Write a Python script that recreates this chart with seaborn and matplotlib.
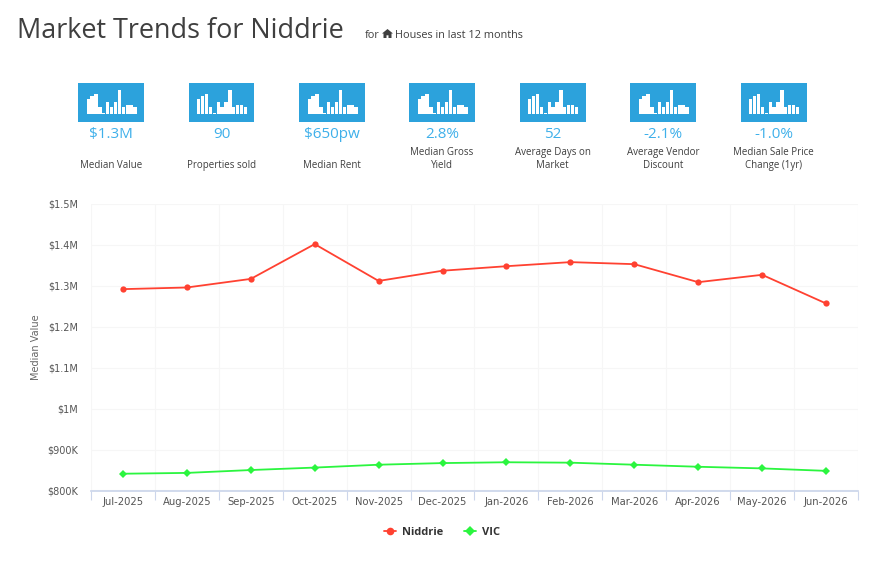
import pandas as pd
import numpy as np
import matplotlib
matplotlib.use('Agg')
import matplotlib.pyplot as plt
from matplotlib.ticker import FuncFormatter
import seaborn as sns

W, H = 891, 563

months = ['Jul-2025', 'Aug-2025', 'Sep-2025', 'Oct-2025', 'Nov-2025', 'Dec-2025',
          'Jan-2026', 'Feb-2026', 'Mar-2026', 'Apr-2026', 'May-2026', 'Jun-2026']
niddrie = [1292, 1296, 1317, 1402, 1312, 1337, 1348, 1358, 1353, 1309, 1327, 1257]
vic = [841, 843, 850, 856, 863, 867, 869, 868, 863, 858, 854, 848]

stat_values = ['$1.3M', '90', '$650pw', '2.8%', '52', '-2.1%', '-1.0%']
stat_labels = ['Median Value', 'Properties sold', 'Median Rent', 'Median Gross\nYield',
               'Average Days on\nMarket', 'Average Vendor\nDiscount',
               'Median Sale Price\nChange (1yr)']
icon_bars = [15, 18, 20, 7, 1, 12, 7, 12, 24, 7, 9, 9, 7]

TEXT = '#3f3f3f'
BLUE = '#3fb0ea'
ICON = '#2ca2dc'
RED = '#ff4131'
GREEN = '#2bf53f'


def px_axes(fig, x0, y0, x1, y1):
    # pixel box measured from the top left of the picture
    return fig.add_axes([x0 / W, 1 - y1 / H, (x1 - x0) / W, (y1 - y0) / H])


def draw_icon(fig, cx):
    ax = px_axes(fig, cx - 33, 83, cx + 33, 122)
    icon_df = pd.DataFrame({'pos': range(len(icon_bars)), 'height': icon_bars})
    sns.barplot(data=icon_df, x='pos', y='height', color='white', width=0.84,
                saturation=1, linewidth=0, ax=ax)
    ax.set_facecolor(ICON)
    ax.set_xlim(-2.6, 14.3)
    ax.set_ylim(-7.7, 31.3)
    ax.set_xticks([])
    ax.set_yticks([])
    ax.set_xlabel('')
    ax.set_ylabel('')
    for s in ax.spines.values():
        s.set_visible(False)


sns.set_theme(style='white')
plt.rcParams['font.family'] = ['Open Sans', 'DejaVu Sans']

fig = plt.figure(figsize=(W / 100, H / 100), dpi=100, facecolor='white')

fig.text(17 / W, 1 - 38 / H, 'Market Trends for Niddrie', fontsize=19.45, color=TEXT,
         va='baseline', ha='left')
fig.text(365 / W, 1 - 38 / H, 'for', fontsize=7.8, color=TEXT, va='baseline')
fig.text(395 / W, 1 - 38 / H, 'Houses in last 12 months', fontsize=7.8, color=TEXT, va='baseline')
# small house glyph between the two texts
house = px_axes(fig, 382, 29, 393, 38)
house.fill([0, 5.5, 11, 9.5, 9.5, 6.5, 6.5, 4.5, 4.5, 1.5, 1.5],
           [5, 10, 5, 5, 0, 0, 3, 3, 0, 0, 5], color=TEXT, lw=0)
house.set_xlim(0, 11)
house.set_ylim(0, 10)
house.axis('off')

centers = [111, 221.5, 332, 442, 552.5, 663, 773.5]
for cx, val, lab in zip(centers, stat_values, stat_labels):
    draw_icon(fig, cx)
    fig.text(cx / W, 1 - 138 / H, val, fontsize=11, color=BLUE, ha='center', va='baseline')
    if '\n' in lab:
        top, bottom = lab.split('\n')
        fig.text(cx / W, 1 - 155 / H, top, fontsize=7, color=TEXT, ha='center', va='baseline')
        fig.text(cx / W, 1 - 168 / H, bottom, fontsize=7, color=TEXT, ha='center', va='baseline')
    else:
        fig.text(cx / W, 1 - 168 / H, lab, fontsize=7, color=TEXT, ha='center', va='baseline')

df = pd.DataFrame({
    'month': months * 2,
    'value': niddrie + vic,
    'series': ['Niddrie'] * len(niddrie) + ['VIC'] * len(vic),
})

ax = px_axes(fig, 91, 204, 858, 490.5)
sns.lineplot(data=df, x='month', y='value', hue='series', style='series',
             palette={'Niddrie': RED, 'VIC': GREEN},
             markers={'Niddrie': 'o', 'VIC': 'D'}, dashes=False,
             linewidth=1.3, markersize=4.5, markeredgewidth=0, ax=ax)

ax.set_xlim(-0.5, len(months) - 0.5)
ax.set_ylim(800, 1500)
ax.set_yticks(range(800, 1501, 100))


def money(v, pos):
    if v < 1000:
        return f'${v:.0f}K'
    return f'${v / 1000:g}M'


ax.yaxis.set_major_formatter(FuncFormatter(money))
ax.set_xticks(np.arange(len(months)))
ax.set_xticklabels(months, fontfamily='DejaVu Sans')
ax.tick_params(axis='x', length=0, labelsize=7.2, labelcolor='#555555', pad=5)
ax.tick_params(axis='y', length=0, labelsize=7, labelcolor='#555555', pad=9)
for t in ax.get_yticklabels():
    t.set_fontfamily('DejaVu Sans')

# band edges carry the grid and the tick marks, as on a category axis
edges = np.arange(len(months) + 1) - 0.5
ax.set_xticks(edges, minor=True)
ax.tick_params(axis='x', which='minor', bottom=True, length=6.5, width=0.8,
               color='#ccd6eb', direction='out')
ax.grid(True, axis='x', which='minor', color='#f6f6f6', lw=0.8)
ax.grid(True, axis='y', which='major', color='#f6f6f6', lw=0.8)
ax.set_axisbelow(True)
for name, s in ax.spines.items():
    s.set_visible(name == 'bottom')
ax.spines['bottom'].set_color('#ccd6eb')

ax.set_xlabel('')
ax.set_ylabel('Median Value', fontsize=7, color='#666666', labelpad=5, fontfamily='DejaVu Sans')

sns.move_legend(ax, 'center', bbox_to_anchor=(351 / 767, (490.5 - 532.5) / 286.5), ncol=2,
                title=None, frameon=False, handlelength=1.1, columnspacing=1.8,
                handletextpad=0.55, prop={'size': 8, 'weight': 'bold'})
leg = ax.get_legend()
for t in leg.get_texts():
    t.set_color('#333333')
for h in leg.get_lines():
    h.set_markersize(5.5)

fig.savefig('out.png', dpi=100)
